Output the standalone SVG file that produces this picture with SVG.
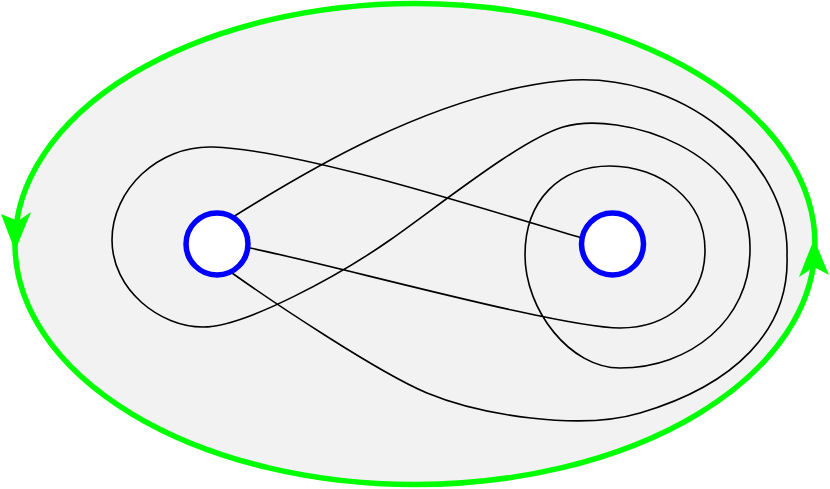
<svg xmlns="http://www.w3.org/2000/svg" width="830" height="489" viewBox="0 0 830 489">
<style>
.boundary{fill:#f2f2f2;stroke:#00ff00;stroke-width:5.5}
.arrow{fill:#00ff00;stroke:none}
.curve{fill:none;stroke:#000;stroke-width:1.6}
.hole{fill:#fff;stroke:#0000ff;stroke-width:5.5}
</style>
<rect width="830" height="489" fill="#fff"/>
<g id="boundary">
<ellipse class="boundary" cx="415" cy="244" rx="400" ry="240.5"/>
<polygon class="arrow" points="15,251 31,212 18,221 1,214"/>
<polygon class="arrow" points="814,239 829,275 814,267 799,277"/>
</g>
<g id="connectors">
<path class="curve" d="M233,217 C300,175 430,95 560,81 C680,68 790,160 787,255 C790,330 735,385 640,413 C580,431 480,415 427,393 C377,372 270,300 232,273"/>
<path class="curve" d="M582,238 C480,208 300,150 213,147 C158,145 112,190 112,240 C112,290 160,327 203,327 C245,327 340,275 390,240 C440,205 520,140 563,127 C620,110 752,150 750,250 C750,320 690,368 620,368 C570,368 525,310 525,255 C525,200 560,166 610,166 C660,166 705,200 705,250 C705,300 665,328 620,328 C560,328 330,264 250,248"/>
</g>
<g id="hole-left">
<circle class="hole" cx="217" cy="244" r="31"/>
</g>
<g id="hole-right">
<circle class="hole" cx="612.5" cy="244" r="31"/>
</g>
</svg>
